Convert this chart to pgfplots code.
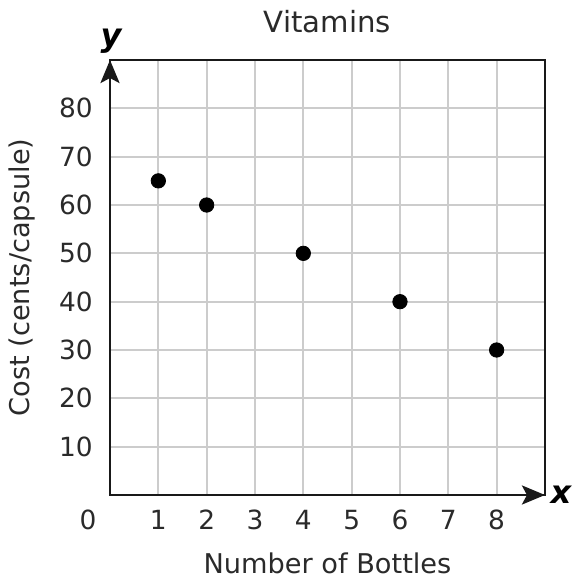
\documentclass[border=0pt]{standalone}
\usepackage{fontspec}
\setmainfont{DejaVu Sans}
\usepackage{pgfplots}
\pgfplotsset{compat=1.18}
\usetikzlibrary{arrows.meta}
\definecolor{txt}{HTML}{2A2A2A}
\begin{document}
\fontsize{13.4}{15}\selectfont
\begin{tikzpicture}
\path[use as bounding box] (-55pt,-45pt) rectangle (232pt,247.5pt);
\begin{axis}[
 at={(0,0)}, anchor=south west,
 scale only axis, width=217.5pt, height=217.5pt,
 xmin=0, xmax=9, ymin=0, ymax=90,
 xtick={1,...,8}, ytick={10,20,...,80},
 grid=major, major grid style={gray!40, line width=1pt},
 major tick length=0pt,
 axis line style={line width=1.4pt, black!90},
 tick label style={font=\fontsize{13.2}{15}\selectfont, text=txt},
 /pgf/number format/assume math mode=true,
 xticklabel style={yshift=-3pt},
 yticklabel style={xshift=-4pt},
 clip=false,
]
\addplot[only marks, mark=*, mark size=3.6pt, black] coordinates {(1,65) (2,60) (4,50) (6,40) (8,30)};
\draw[line width=1.4pt, black!90, -{Stealth[length=11.5pt,width=9.5pt,inset=2.5pt]}] (axis cs:0,0) -- (axis cs:0,90);
\draw[line width=1.4pt, black!90, -{Stealth[length=11.5pt,width=9.5pt,inset=2.5pt]}] (axis cs:0,0) -- (axis cs:9,0);
\node[text=txt, font=\fontsize{14.6}{16}\selectfont] at ([yshift=19pt]axis description cs:0.5,1) {Vitamins};
\node[text=txt, font=\fontsize{13.6}{15}\selectfont] at ([yshift=-34pt]axis description cs:0.5,0) {Number of Bottles};
\node[text=txt, rotate=90, font=\fontsize{13.6}{15}\selectfont] at ([xshift=-44pt]axis description cs:0,0.5) {Cost (cents/capsule)};
\node[text=txt, font=\fontsize{13.2}{15}\selectfont] at ([xshift=-11pt, yshift=-12.5pt]axis description cs:0,0) {0};
\node[text=black, font=\bfseries\itshape\fontsize{16}{18}\selectfont] at ([xshift=0.5pt,yshift=9.5pt]axis description cs:0,1) {y};
\node[text=black, font=\bfseries\itshape\fontsize{16}{18}\selectfont] at ([xshift=8pt]axis description cs:1,0) {x};
\end{axis}
\end{tikzpicture}
\end{document}
